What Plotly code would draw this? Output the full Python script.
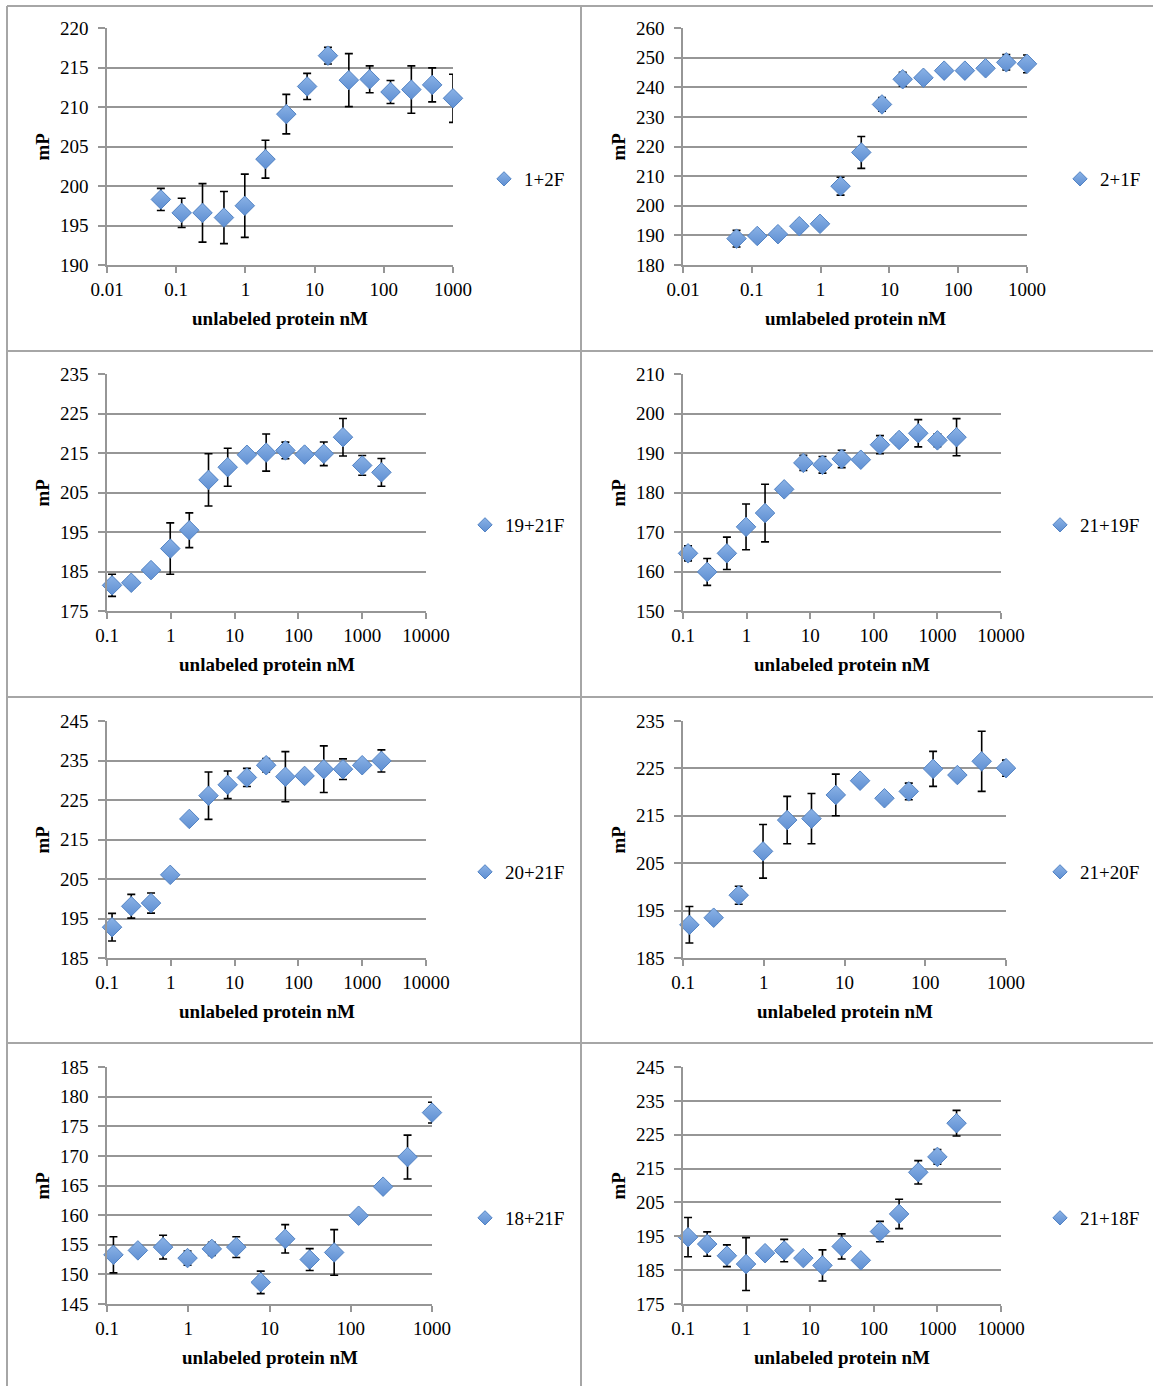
import math
import plotly.graph_objects as go

W, H = 1153, 1386

# ---------------- data ----------------
conc_a = [0.06, 0.12, 0.24, 0.49, 0.98, 1.95, 3.9, 7.8, 15.6, 31.25, 62.5, 125, 250, 500, 1000]
conc_b = [0.12, 0.24, 0.49, 0.98, 1.95, 3.9, 7.8, 15.6, 31.25, 62.5, 125, 250, 500, 1000, 2000]
conc_c = [0.12, 0.24, 0.49, 0.98, 1.95, 3.9, 7.8, 15.6, 31.25, 62.5, 125, 250, 500, 1000]

mp_1_2F = [198.3, 196.6, 196.6, 196.0, 197.5, 203.4, 209.1, 212.6, 216.5, 213.4, 213.5, 211.9, 212.2, 212.8, 211.1]
err_1_2F = [1.4, 1.85, 3.7, 3.3, 4.0, 2.4, 2.5, 1.65, 1.05, 3.35, 1.7, 1.45, 3.0, 2.15, 3.05]

mp_2_1F = [188.9, 189.8, 190.4, 193.1, 193.9, 206.6, 218.0, 234.2, 242.7, 243.2, 245.6, 245.6, 246.4, 248.4, 247.9]
err_2_1F = [2.8, 1.7, 1.8, 1.7, 0.5, 3.0, 5.4, 2.3, 2.35, 1.5, 0.8, 0.8, 0.8, 2.6, 3.0]

mp_19_21F = [181.5, 182.15, 185.35, 190.8, 195.45, 208.2, 211.4, 214.55, 215.1, 215.65, 214.6, 214.8, 219.0, 211.85, 210.1]
err_19_21F = [2.8, 1.3, 0.6, 6.5, 4.4, 6.6, 4.8, 0.8, 4.7, 2.1, 1.35, 3.0, 4.75, 2.5, 3.5]

mp_21_19F = [164.6, 159.9, 164.6, 171.3, 174.8, 180.8, 187.5, 187.0, 188.5, 188.3, 192.1, 193.3, 195.0, 193.2, 194.0]
err_21_19F = [1.9, 3.4, 4.1, 5.8, 7.3, 0.5, 1.9, 2.1, 2.2, 0.8, 2.3, 1.35, 3.45, 1.6, 4.7]

mp_20_21F = [192.8, 198.1, 198.9, 206.05, 220.2, 226.1, 228.85, 230.7, 233.8, 230.9, 231.1, 232.8, 232.8, 233.8, 234.9]
err_20_21F = [3.5, 3.0, 2.55, 0.5, 0.5, 6.0, 3.5, 2.3, 1.7, 6.35, 1.1, 5.9, 2.6, 0.5, 2.8]

mp_21_20F = [192.0, 193.5, 198.25, 207.5, 214.1, 214.4, 219.4, 222.4, 218.7, 220.15, 224.9, 223.6, 226.5, 225.05]
err_21_20F = [3.85, 1.15, 1.9, 5.65, 5.0, 5.3, 4.4, 0.7, 1.05, 1.75, 3.7, 0.5, 6.35, 1.7]

mp_18_21F = [153.3, 154.05, 154.6, 152.75, 154.3, 154.6, 148.65, 156.0, 152.5, 153.7, 159.9, 164.8, 169.8, 177.3]
err_18_21F = [3.05, 0.8, 2.0, 1.2, 1.1, 1.75, 1.9, 2.4, 1.85, 3.85, 0.3, 0.8, 3.7, 1.75]

mp_21_18F = [194.75, 192.7, 189.25, 186.8, 190.0, 190.8, 188.55, 186.4, 192.0, 187.9, 196.4, 201.6, 213.9, 218.45, 228.4]
err_21_18F = [5.8, 3.6, 3.2, 7.8, 1.0, 3.3, 0.5, 4.6, 3.7, 0.8, 3.0, 4.35, 3.45, 2.15, 3.8]

series_names = ["1+2F", "2+1F", "19+21F", "21+19F", "20+21F", "21+20F", "18+21F", "21+18F"]
x_titles = ["unlabeled protein nM", "umlabeled protein nM", "unlabeled protein nM", "unlabeled protein nM",
            "unlabeled protein nM", "unlabeled protein nM", "unlabeled protein nM", "unlabeled protein nM"]
y_title = "mP"

xtick_vals_a = [0.01, 0.1, 1, 10, 100, 1000]
xtick_vals_b = [0.1, 1, 10, 100, 1000, 10000]
xtick_vals_c = [0.1, 1, 10, 100, 1000]

# ---------------- layout geometry (px) ----------------
panels = [
    dict(x=conc_a, y=mp_1_2F, e=err_1_2F, xt=xtick_vals_a, yr=(190, 220), dy=5, box=(107, 453, 28, 265), leg=(506, 179)),
    dict(x=conc_a, y=mp_2_1F, e=err_2_1F, xt=xtick_vals_a, yr=(180, 260), dy=10, box=(683, 1027, 28, 265), leg=(1082, 179)),
    dict(x=conc_b, y=mp_19_21F, e=err_19_21F, xt=xtick_vals_b, yr=(175, 235), dy=10, box=(107, 426, 374, 611), leg=(487, 525)),
    dict(x=conc_b, y=mp_21_19F, e=err_21_19F, xt=xtick_vals_b, yr=(150, 210), dy=10, box=(683, 1001, 374, 611), leg=(1062, 525)),
    dict(x=conc_b, y=mp_20_21F, e=err_20_21F, xt=xtick_vals_b, yr=(185, 245), dy=10, box=(107, 426, 721, 958), leg=(487, 872)),
    dict(x=conc_c, y=mp_21_20F, e=err_21_20F, xt=xtick_vals_c, yr=(185, 235), dy=10, box=(683, 1006, 721, 958), leg=(1062, 872)),
    dict(x=conc_c, y=mp_18_21F, e=err_18_21F, xt=xtick_vals_c, yr=(145, 185), dy=5, box=(107, 432, 1067, 1304), leg=(487, 1218)),
    dict(x=conc_b, y=mp_21_18F, e=err_21_18F, xt=xtick_vals_b, yr=(175, 245), dy=10, box=(683, 1001, 1067, 1304), leg=(1062, 1218)),
]

SERIF = "Liberation Serif"
GRID = "#969696"
MARKER = dict(symbol="diamond", size=15, color="#8ab2e6",
              gradient=dict(type="vertical", color="#5f8fd2"),
              line=dict(color="#5283c4", width=1))

fig = go.Figure()
layout = dict(
    width=W, height=H, margin=dict(l=0, r=0, t=0, b=0, autoexpand=False),
    paper_bgcolor="white", plot_bgcolor="white",
    font=dict(family=SERIF, size=19, color="black"),
    showlegend=True,
)
annotations = []


def fx(px):
    return px / W


def fy(py):
    return 1 - py / H


for i, p in enumerate(panels):
    k = i + 1
    sfx = "" if k == 1 else str(k)
    legname = "legend" if k == 1 else f"legend{k}"
    fig.add_trace(go.Scatter(
        x=p["x"], y=p["y"], mode="markers", name=series_names[i],
        xaxis=f"x{sfx}", yaxis=f"y{sfx}", showlegend=False,
        marker=MARKER,
        error_y=dict(type="data", array=p["e"], visible=True, color="black",
                     thickness=1.6, width=4),
        cliponaxis=False,
    ))
    # legend entry (smaller swatch, like the original)
    fig.add_trace(go.Scatter(
        x=[None], y=[None], mode="markers", name=series_names[i],
        xaxis=f"x{sfx}", yaxis=f"y{sfx}", legend=legname, showlegend=True,
        marker=dict(MARKER, size=11),
    ))
    x0, x1, y0, y1 = p["box"]
    xt = p["xt"]
    layout[f"xaxis{sfx}"] = dict(
        domain=[fx(x0), fx(x1)], anchor=f"y{sfx}", type="log",
        range=[math.log10(xt[0]), math.log10(xt[-1])],
        tickvals=xt, ticktext=[("%g" % v) for v in xt],
        showgrid=False, zeroline=False, showline=True, linecolor=GRID, linewidth=1.5,
        ticks="outside", ticklen=6, tickwidth=1.5, tickcolor=GRID,
        tickfont=dict(family=SERIF, size=19, color="black"), fixedrange=True,
    )
    lo, hi = p["yr"]
    layout[f"yaxis{sfx}"] = dict(
        domain=[fy(y1), fy(y0)], anchor=f"x{sfx}", range=[lo, hi],
        tick0=lo, dtick=p["dy"],
        showgrid=True, gridcolor=GRID, gridwidth=1.5, zeroline=False,
        showline=True, linecolor=GRID, linewidth=1.5,
        ticks="outside", ticklen=7, tickwidth=1.5, tickcolor=GRID, ticklabelstandoff=6,
        tickfont=dict(family=SERIF, size=19, color="black"), fixedrange=True,
    )
    layout[legname] = dict(
        x=fx(p["leg"][0] - 22), y=fy(p["leg"][1]), xanchor="left", yanchor="middle",
        bgcolor="rgba(0,0,0,0)", borderwidth=0,
        font=dict(family=SERIF, size=19, color="black"),
    )
    annotations.append(dict(
        text=f"<b>{x_titles[i]}</b>", x=fx((x0 + x1) / 2), y=fy(y1 + 53),
        xref="paper", yref="paper", showarrow=False, xanchor="center", yanchor="middle",
        font=dict(family=SERIF, size=19, color="black"),
    ))
    annotations.append(dict(
        text=f"<b>{y_title}</b>", x=fx(x0 - 65), y=fy((y0 + y1) / 2),
        xref="paper", yref="paper", showarrow=False, xanchor="center", yanchor="middle",
        textangle=-90, font=dict(family=SERIF, size=19, color="black"),
    ))

layout["annotations"] = annotations

# table-like panel borders
BORDER = "#a6a6a6"
shapes = []
for py in [6, 351, 697, 1043]:
    shapes.append(dict(type="line", xref="paper", yref="paper", x0=fx(7), x1=1, y0=fy(py), y1=fy(py),
                       line=dict(color=BORDER, width=2)))
for px in [7, 581]:
    shapes.append(dict(type="line", xref="paper", yref="paper", x0=fx(px), x1=fx(px), y0=fy(6), y1=0,
                       line=dict(color=BORDER, width=2)))
layout["shapes"] = shapes

fig.update_layout(**layout)
fig.write_html("out.html")
